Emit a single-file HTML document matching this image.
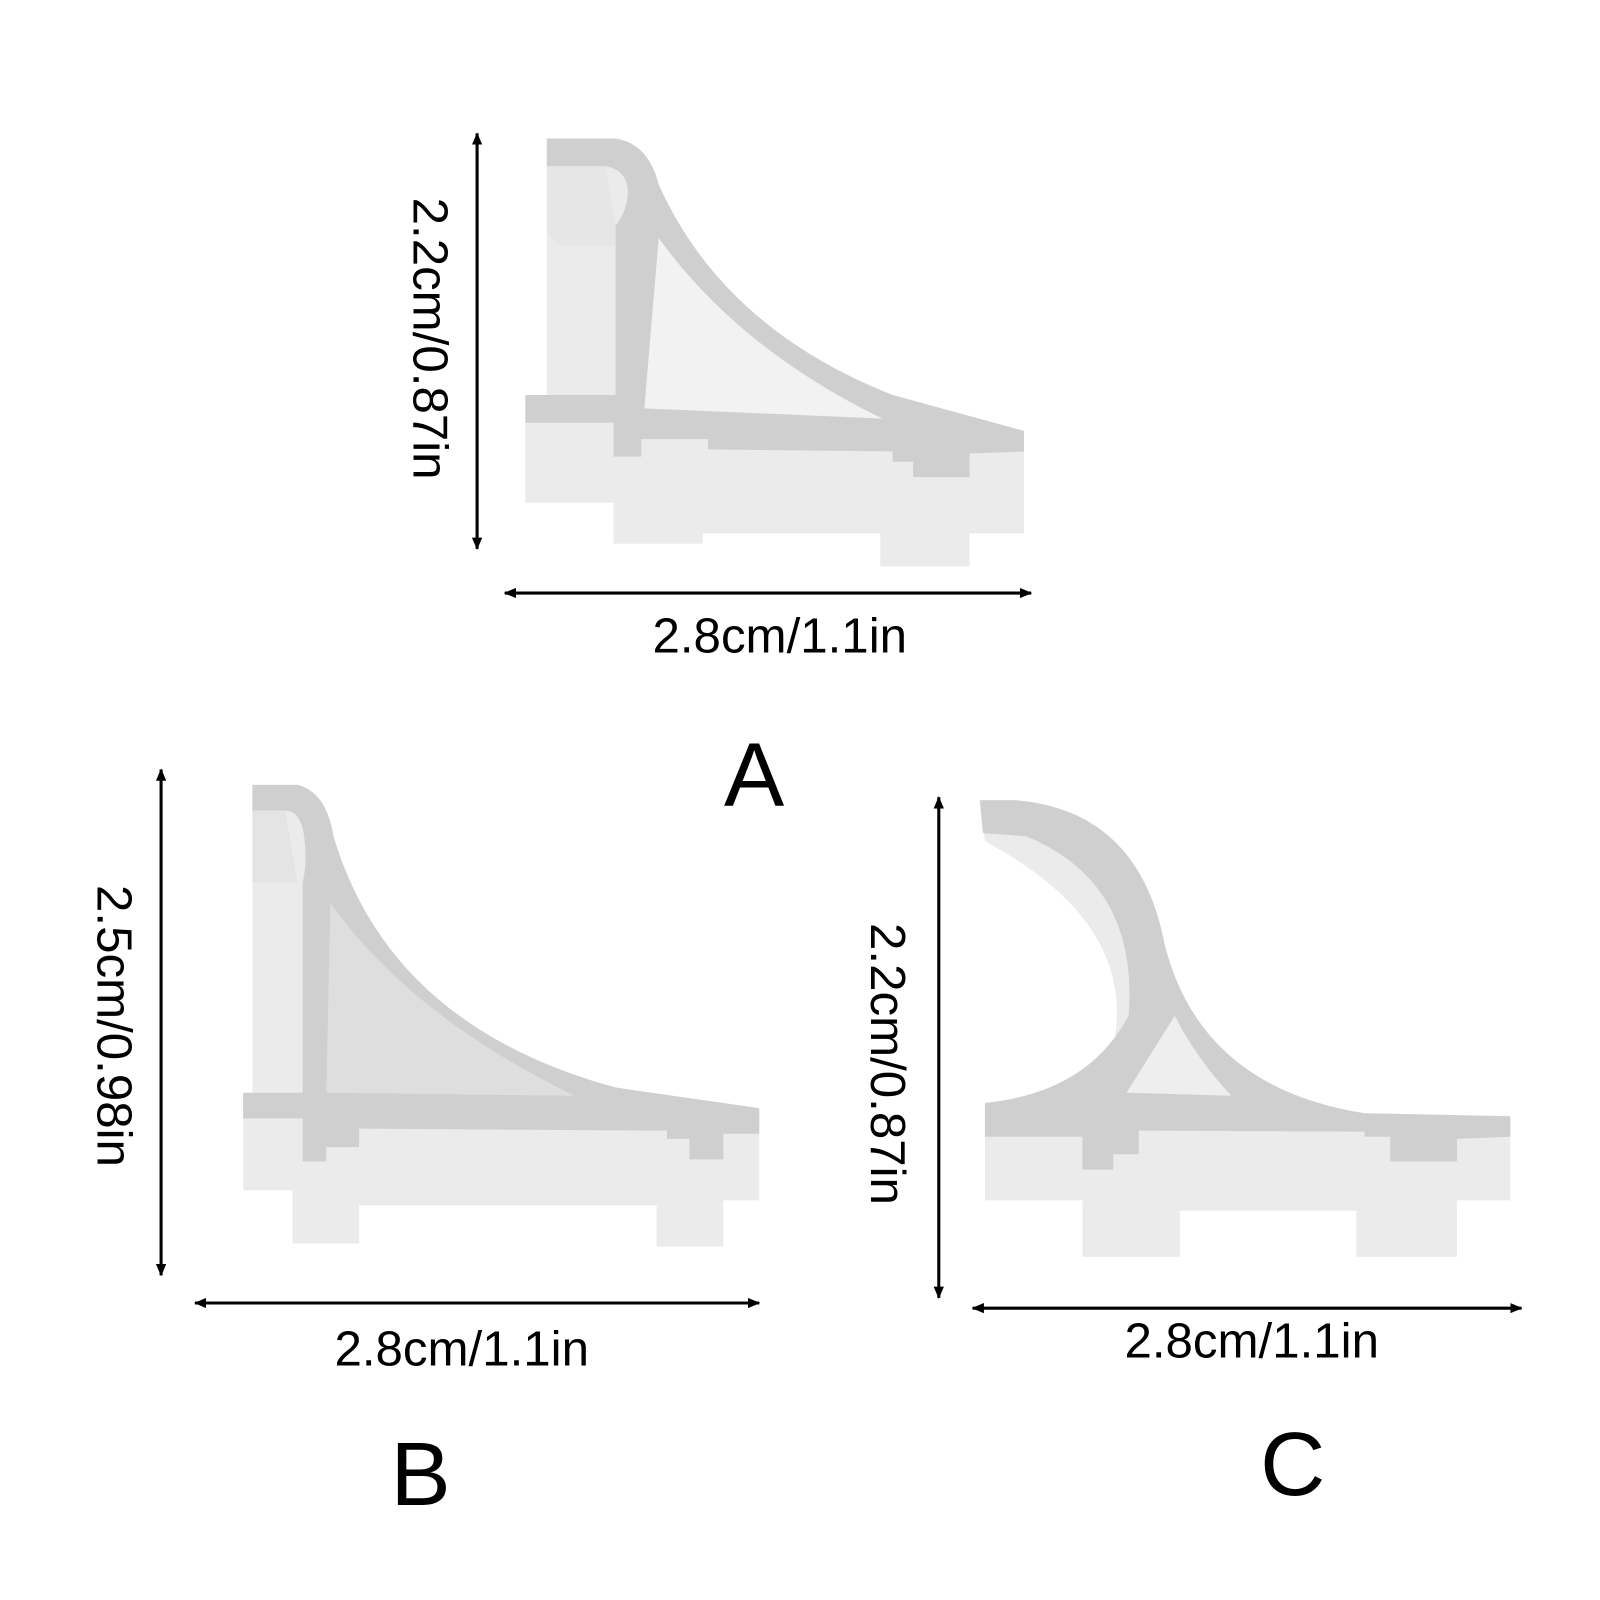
<!DOCTYPE html>
<html><head><meta charset="utf-8">
<style>
html,body{margin:0;padding:0;background:#fff;}
svg{display:block;}
text{font-family:"Liberation Sans",sans-serif;fill:#000;}
</style></head>
<body>
<svg width="1600" height="1600" viewBox="0 0 1600 1600" xmlns="http://www.w3.org/2000/svg">
<defs>
<marker id="ah" markerWidth="12" markerHeight="10" refX="11" refY="5" orient="auto-start-reverse" markerUnits="userSpaceOnUse">
<path d="M0,0 L12,5 L0,10 Z" fill="#000"/>
</marker>
</defs>
<g transform="scale(1.026)">
<!-- Piece A -->
<path d="M533,135 L600,135 Q632,140 642,180 Q705,320 870,385 L998,420 L998,520 L945,520 L945,552 L858,552 L858,520 L685,520 L685,530 L598,530 L598,490 L512,490 L512,385 L533,385 Z" fill="#ebebeb"/>
<path d="M533,135 L600,135 Q632,140 642,180 Q705,320 870,385 L998,420 L998,440 L945,442 L945,465 L890,465 L890,450 L870,450 L870,440 L690,438 L690,428 L625,428 L625,445 L598,445 L598,412 L512,412 L512,385 L600,385 L600,220 Q612,205 612,185 Q610,165 590,162 L533,162 Z" fill="#cfcfcf"/>
<path d="M642,232 L628,398 L860,408 Q720,340 642,232 Z" fill="#f2f2f2"/>
<path d="M533,162 L590,162 L600,220 L600,240 L545,240 L533,225 Z" fill="#e6e6e6"/>

<!-- Piece B -->
<path d="M246,765 L290,765 Q318,772 325,815 Q380,1000 600,1060 L740,1080 L740,1170 L705,1170 L705,1215 L640,1215 L640,1175 L350,1175 L350,1212 L285,1212 L285,1160 L237,1160 L237,1065 L246,1065 Z" fill="#ebebeb"/>
<path d="M246,765 L290,765 Q318,772 325,815 Q380,1000 600,1060 L740,1080 L740,1105 L705,1105 L705,1130 L672,1130 L672,1110 L650,1110 L650,1102 L350,1100 L350,1118 L318,1118 L318,1132 L295,1132 L295,1090 L237,1090 L237,1065 L295,1065 L295,860 Q300,840 296,812 Q292,790 278,790 L246,790 Z" fill="#cfcfcf"/>
<path d="M322,880 L318,1065 L560,1068 Q400,990 322,880 Z" fill="#dedede"/>
<path d="M246,790 L278,790 L290,860 L246,860 Z" fill="#e4e4e4"/>

<!-- Piece C -->
<path d="M955,780 L990,780 Q1110,790 1135,920 Q1170,1060 1330,1085 L1472,1088 L1472,1170 L1420,1170 L1420,1225 L1322,1225 L1322,1180 L1150,1180 L1150,1225 L1055,1225 L1055,1170 L960,1170 L960,1080 Q1040,1070 1085,1020 Q1110,900 960,820 Z" fill="#ebebeb"/>
<path d="M955,780 L990,780 Q1110,790 1135,920 Q1170,1060 1330,1085 L1472,1088 L1472,1108 L1420,1110 L1420,1132 L1355,1132 L1355,1108 L1330,1108 L1330,1103 L1110,1102 L1110,1125 L1085,1125 L1085,1140 L1055,1140 L1055,1108 L960,1108 L960,1075 Q1060,1065 1100,990 Q1110,860 1000,815 L958,812 Z" fill="#cfcfcf"/>
<path d="M1145,990 L1098,1065 L1200,1068 Q1165,1030 1145,990 Z" fill="#eeeeee"/>

<g stroke="#000" stroke-width="3" fill="none">
<line x1="465" y1="130" x2="465" y2="535" marker-start="url(#ah)" marker-end="url(#ah)"/>
<line x1="492" y1="578" x2="1005" y2="578" marker-start="url(#ah)" marker-end="url(#ah)"/>
<line x1="157" y1="750" x2="157" y2="1243" marker-start="url(#ah)" marker-end="url(#ah)"/>
<line x1="190" y1="1270" x2="740" y2="1270" marker-start="url(#ah)" marker-end="url(#ah)"/>
<line x1="915" y1="777" x2="915" y2="1265" marker-start="url(#ah)" marker-end="url(#ah)"/>
<line x1="948" y1="1275" x2="1483" y2="1275" marker-start="url(#ah)" marker-end="url(#ah)"/>
</g>

<text x="760" y="636" font-size="48" font-weight="500" text-anchor="middle">2.8cm/1.1in</text>
<text x="450" y="1331" font-size="48" font-weight="500" text-anchor="middle">2.8cm/1.1in</text>
<text x="1220" y="1323" font-size="48" font-weight="500" text-anchor="middle">2.8cm/1.1in</text>
<text transform="translate(403,330) rotate(90)" font-size="48" font-weight="500" text-anchor="middle">2.2cm/0.87in</text>
<text transform="translate(95,1000) rotate(90)" font-size="48" font-weight="500" text-anchor="middle">2.5cm/0.98in</text>
<text transform="translate(849,1037) rotate(90)" font-size="48" font-weight="500" text-anchor="middle">2.2cm/0.87in</text>

<text x="735" y="785" font-size="88" text-anchor="middle">A</text>
<text x="410" y="1467" font-size="88" text-anchor="middle">B</text>
<text x="1260" y="1457" font-size="88" text-anchor="middle">C</text>
</g>
</svg>
</body></html>
